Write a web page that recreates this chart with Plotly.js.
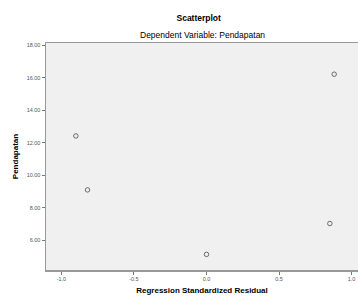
<!DOCTYPE html>
<html>
<head>
<meta charset="utf-8">
<script src="https://cdn.plot.ly/plotly-3.0.1.min.js"></script>
<style>html,body{margin:0;padding:0;background:#fff;}#chart{width:358px;height:298px;}</style>
</head>
<body>
<div id="chart"></div>
<script>
var residuals = [-0.90, -0.82, 0.00, 0.85, 0.88];
var pendapatan = [12.43, 9.11, 5.14, 7.04, 16.23];
var xTickVals = [-1.0, -0.5, 0.0, 0.5, 1.0];
var xTickText = ["-1.0", "-0.5", "0.0", "0.5", "1.0"];
var yTickVals = [6, 8, 10, 12, 14, 16, 18];
var yTickText = ["6.00", "8.00", "10.00", "12.00", "14.00", "16.00", "18.00"];

var trace = {
  x: residuals, y: pendapatan, type: 'scatter', mode: 'markers',
  marker: {symbol: 'circle-open', size: 4.5, color: '#6a6a6a', line: {width: 1, color: '#6a6a6a'}},
  hoverinfo: 'none'
};
var layout = {
  width: 358, height: 298,
  margin: {l: 46, r: 0, t: 43, b: 28, pad: 0},
  paper_bgcolor: '#ffffff', plot_bgcolor: '#f0f0f0',
  font: {family: 'Liberation Sans, Arial, sans-serif', color: '#000'},
  showlegend: false,
  title: {text: '<b>Scatterplot</b>', font: {size: 8.5, color: '#000'}, x: 0.555, xanchor: 'center', y: 1 - 18/298, yanchor: 'middle', yref: 'container'},
  annotations: [{text: 'Dependent Variable: Pendapatan', xref: 'paper', yref: 'paper', x: 0.5, y: 1, yshift: 8, xanchor: 'center', yanchor: 'middle', showarrow: false, font: {size: 8.5, color: '#000'}}],
  xaxis: {
    range: [-1.106, 1.044], tickvals: xTickVals, ticktext: xTickText,
    ticks: 'outside', ticklen: 3, tickcolor: '#777', tickwidth: 1,
    tickfont: {size: 5.5, color: '#555'},
    showgrid: false, zeroline: false, showline: true, linecolor: '#999', linewidth: 1.5, mirror: true,
    title: {text: '<b>Regression Standardized Residual</b>', font: {size: 8, color: '#000'}, standoff: 6}
  },
  yaxis: {
    range: [4.18, 18.15], tickvals: yTickVals, ticktext: yTickText,
    ticks: 'outside', ticklen: 3, tickcolor: '#777', tickwidth: 1,
    tickfont: {size: 5.5, color: '#555'},
    showgrid: false, zeroline: false, showline: true, linecolor: '#999', linewidth: 1.5, mirror: true,
    title: {text: '<b>Pendapatan</b>', font: {size: 8, color: '#000'}, standoff: 7}
  }
};
Plotly.newPlot('chart', [trace], layout, {staticPlot: true, displayModeBar: false});
</script>
</body>
</html>
